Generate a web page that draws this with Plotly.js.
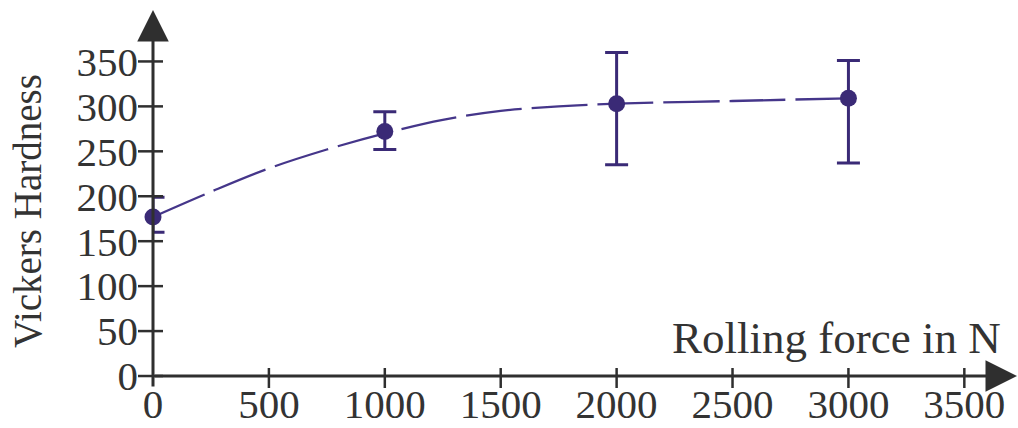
<!DOCTYPE html>
<html>
<head>
<meta charset="utf-8">
<script src="https://cdn.plot.ly/plotly-3.0.1.min.js"></script>
<style>html,body{margin:0;padding:0;background:#fff;}#chart{width:1018px;height:428px;}</style>
</head>
<body>
<div id="chart"></div>
<script>
// Measured data
const force = [0, 1000, 2000, 3000];
const hardness = [177, 272, 303, 309];
const errPlus = [22, 22, 57, 42];
const errMinus = [17, 20, 68, 72];

// Dashed fit curve
const fitForce = [0, 250, 500, 750, 1000, 1250, 1500, 1750, 2000, 2500, 3000];
const fitHardness = [177, 205, 231, 252, 270, 285, 295, 300, 303, 306, 309];

// Tick values / labels
const xTicks = [0, 500, 1000, 1500, 2000, 2500, 3000, 3500];
const xTickText = ['0', '500', '1000', '1500', '2000', '2500', '3000', '3500'];
const yTicks = [0, 50, 100, 150, 200, 250, 300, 350];
const yTickText = ['0', '50', '100', '150', '200', '250', '300', '350'];

const xTitle = 'Rolling force in N';
const yTitle = 'Vickers Hardness';

const purple = '#3a2a76';
const axisCol = '#2f2f2f';
const textCol = '#333333';
const fontFam = '"Liberation Serif", "Times New Roman", serif';

const yMin = -37.8, yMax = 405;
const xMax = 3697;
const xAxisPos = (0 - yMin) / (yMax - yMin);

const traces = [
  {
    x: fitForce, y: fitHardness, type: 'scatter', mode: 'lines',
    line: {color: '#45368a', width: 2.3, shape: 'spline', dash: '56px,10px'},
    hoverinfo: 'skip', showlegend: false, cliponaxis: false
  },
  {
    x: force, y: hardness, type: 'scatter', mode: 'markers',
    marker: {color: purple, size: 17},
    error_y: {type: 'data', symmetric: false, array: errPlus, arrayminus: errMinus,
              color: purple, thickness: 3, width: 11.5},
    showlegend: false, cliponaxis: false
  }
];

const shapes = [];
yTicks.forEach(v => {
  shapes.push({type: 'line', xref: 'paper', yref: 'y', xsizemode: 'pixel', xanchor: 0,
    x0: -15, x1: 10, y0: v, y1: v, line: {color: axisCol, width: 2.5}});
});
xTicks.filter(v => v !== 0).forEach(v => {
  shapes.push({type: 'line', xref: 'x', yref: 'y', ysizemode: 'pixel', yanchor: 0,
    x0: v, x1: v, y0: -12, y1: 8, line: {color: axisCol, width: 2.5}});
});

const annotations = [
  // x axis line with arrow
  {xref: 'paper', yref: 'y', x: (1021 - 153) / 857, y: 0, text: '', showarrow: true,
   axref: 'pixel', ayref: 'pixel', ax: -(1021 - 153), ay: 0,
   arrowhead: 2, arrowsize: 2.1, arrowwidth: 3, arrowcolor: axisCol},
  // y axis line with arrow
  {xref: 'x', yref: 'paper', x: 0, y: 1.005, text: '', showarrow: true,
   axref: 'pixel', ayref: 'pixel', ax: 0, ay: 378,
   arrowhead: 2, arrowsize: 2.1, arrowwidth: 3, arrowcolor: axisCol},
  // x axis title
  {xref: 'paper', yref: 'y', x: (1003 - 153) / 857, y: 0, xanchor: 'right', yanchor: 'bottom',
   yshift: 11, text: xTitle, showarrow: false,
   font: {family: fontFam, size: 45, color: textCol}}
];

const layout = {
  width: 1018, height: 428,
  margin: {l: 153, r: 8, t: 12, b: 18},
  paper_bgcolor: '#ffffff', plot_bgcolor: '#ffffff',
  showlegend: false,
  font: {family: fontFam, color: textCol, size: 41},
  xaxis: {
    range: [0, xMax], anchor: 'free', position: xAxisPos,
    showgrid: false, zeroline: false, showline: false, ticks: '',
    tickmode: 'array', tickvals: xTicks, ticktext: xTickText,
    ticklabelstandoff: 0,
    tickfont: {family: fontFam, size: 41, color: textCol}
  },
  yaxis: {
    range: [yMin, yMax],
    showgrid: false, zeroline: false, showline: false, ticks: '',
    tickmode: 'array', tickvals: yTicks, ticktext: yTickText,
    ticklabelstandoff: 14,
    tickfont: {family: fontFam, size: 41, color: textCol},
    title: {text: yTitle, standoff: 22, font: {family: fontFam, size: 39, color: textCol}}
  },
  shapes: shapes,
  annotations: annotations
};

Plotly.newPlot('chart', traces, layout, {displayModeBar: false, staticPlot: true});
</script>
</body>
</html>
